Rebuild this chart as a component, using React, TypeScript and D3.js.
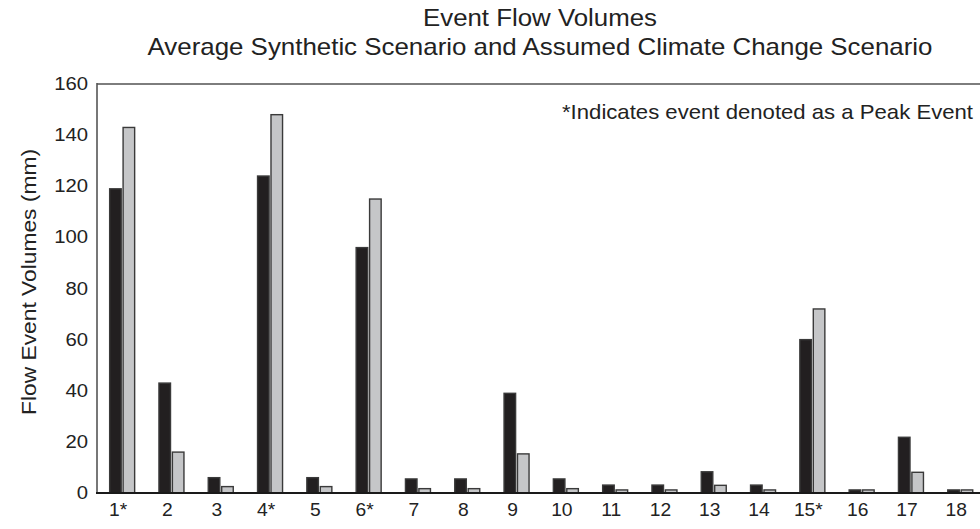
import React, { useEffect, useRef } from 'react';
import * as d3 from 'd3';

// event labels (asterisk = peak event)
const events = ['1*', '2', '3', '4*', '5', '6*', '7', '8', '9', '10', '11', '12', '13', '14', '15*', '16', '17', '18'];
// Average Synthetic Scenario
const avgSynthetic = [119, 43, 6, 124, 6, 96, 5.5, 5.5, 39, 5.5, 3.1, 3.1, 8.3, 3.1, 60, 1.2, 21.8, 1.2];
// Assumed Climate Change Scenario
const climateChange = [143, 16, 2.5, 148, 2.5, 115, 1.7, 1.7, 15.3, 1.7, 1.2, 1.2, 3, 1.2, 72, 1.2, 8.1, 1.2];
const yTicks = [0, 20, 40, 60, 80, 100, 120, 140, 160];
const series = ['avg', 'cc'];

const App: React.FC = () => {
  const svgRef = useRef<SVGSVGElement>(null);

  useEffect(() => {
    if (!svgRef.current) return;

    const width = 980;
    const height = 529;
    const font = '"Liberation Sans", Arial, Helvetica, sans-serif';

    d3.select(svgRef.current).selectAll('*').remove();

    const svg = d3
      .select(svgRef.current)
      .attr('width', width)
      .attr('height', height)
      .attr('viewBox', [0, 0, width, height].join(' '))
      .style('font-family', font);

    const plotLeft = 97;
    const plotTop = 84;
    const plotBottom = 493;

    /* ---- scales ---- */
    const y = d3.scaleLinear().domain([0, 160]).range([plotBottom, plotTop]);

    const step = 49.3;
    const x = d3
      .scaleBand<string>()
      .domain(events)
      .range([93.5, 93.5 + step * events.length])
      .padding(0);

    const xInner = d3
      .scaleBand<string>()
      .domain(series)
      .range([-12.5, 12.5])
      .paddingInner(0.14);

    const rows = events.map((e, i) => ({
      event: e,
      values: [
        { key: 'avg', value: avgSynthetic[i] },
        { key: 'cc', value: climateChange[i] }
      ]
    }));

    const fill: Record<string, string> = { avg: '#221f20', cc: '#c5c6c8' };

    // stretched text helper (source text looks horizontally widened)
    const stext = (
      g: any,
      tx: number,
      ty: number,
      str: string,
      size: number,
      sx: number,
      anchor: string,
      baseline = 'auto'
    ) =>
      g
        .append('text')
        .attr('transform', `translate(${tx},${ty}) scale(${sx},1)`)
        .attr('text-anchor', anchor)
        .attr('dominant-baseline', baseline)
        .style('font-size', `${size}px`)
        .style('fill', '#222')
        .text(str);

    // fixed-length text helper
    const ltext = (
      g: any,
      tx: number,
      ty: number,
      str: string,
      size: number,
      len: number,
      anchor: string
    ) =>
      g
        .append('text')
        .attr('x', tx)
        .attr('y', ty)
        .attr('text-anchor', anchor)
        .attr('textLength', len)
        .attr('lengthAdjust', 'spacingAndGlyphs')
        .style('font-size', `${size}px`)
        .style('fill', '#222')
        .text(str);

    /* ---- titles ---- */
    ltext(svg, 540, 26, 'Event Flow Volumes', 23, 234, 'middle');
    ltext(svg, 540, 55, 'Average Synthetic Scenario and Assumed Climate Change Scenario', 24, 785, 'middle');

    /* ---- frame ---- */
    svg.append('line')
      .attr('x1', plotLeft).attr('x2', width)
      .attr('y1', plotTop).attr('y2', plotTop)
      .attr('stroke', '#7d7d7d')
      .attr('stroke-width', 2);

    svg.append('line')
      .attr('x1', plotLeft).attr('x2', plotLeft)
      .attr('y1', plotTop - 1).attr('y2', plotBottom)
      .attr('stroke', '#555')
      .attr('stroke-width', 1.6);

    /* ---- bars ---- */
    const groups = svg.append('g')
      .selectAll('g')
      .data(rows)
      .join('g')
      .attr('transform', d => `translate(${x(d.event)! + x.bandwidth() / 2 + 4},0)`);

    groups.selectAll('rect')
      .data(d => d.values)
      .join('rect')
      .attr('x', d => xInner(d.key)!)
      .attr('width', xInner.bandwidth())
      .attr('y', d => y(d.value))
      .attr('height', d => y(0) - y(d.value))
      .attr('fill', d => fill[d.key])
      .attr('stroke', '#3a3a3a')
      .attr('stroke-width', 1.4);

    /* ---- baseline ---- */
    svg.append('line')
      .attr('x1', plotLeft - 1).attr('x2', width)
      .attr('y1', plotBottom).attr('y2', plotBottom)
      .attr('stroke', '#1a1a1a')
      .attr('stroke-width', 2);

    /* ---- y tick labels ---- */
    const yAxis = svg.append('g');
    yTicks.forEach(t => {
      stext(yAxis, 88, y(t), String(t), 17.5, 1.16, 'end', 'central');
    });

    /* ---- x labels ---- */
    const xAxis = svg.append('g');
    events.forEach(e => {
      stext(xAxis, x(e)! + x.bandwidth() / 2, 516, e, 17.5, 1.1, 'middle');
    });

    /* ---- y title ---- */
    svg.append('text')
      .attr('transform', `translate(36,${(149 + 415) / 2}) rotate(-90)`)
      .attr('text-anchor', 'middle')
      .attr('textLength', 266)
      .attr('lengthAdjust', 'spacingAndGlyphs')
      .style('font-size', '20px')
      .style('fill', '#222')
      .text('Flow Event Volumes (mm)');

    /* ---- annotation ---- */
    ltext(svg, 973, 119, '*Indicates event denoted as a Peak Event', 21, 411, 'end');
  }, []);

  return (
    <svg
      ref={svgRef}
      style={{
        position: 'absolute',
        left: 0,
        top: 0,
        background: '#ffffff',
        display: 'block'
      }}
    />
  );
};

export default App;
